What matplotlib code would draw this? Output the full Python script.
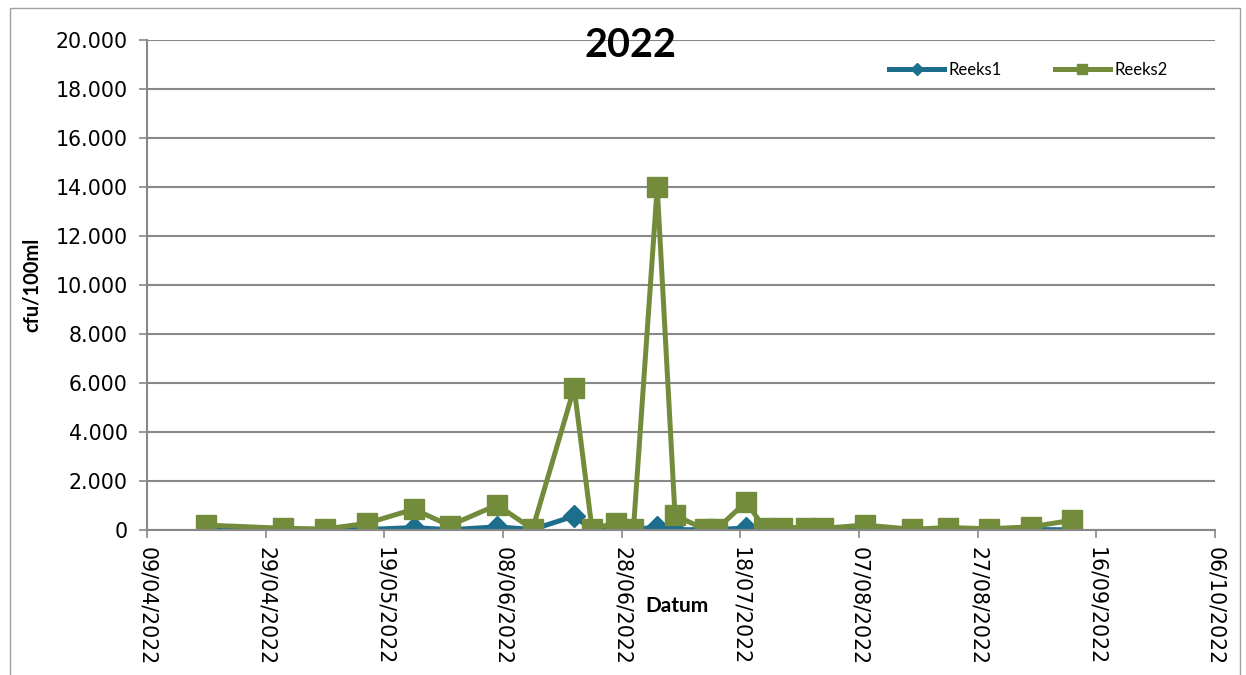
import numpy as np
import pandas as pd
import matplotlib.pyplot as plt
import matplotlib.dates as mdates
from matplotlib.ticker import FuncFormatter
from matplotlib.patches import Rectangle

plt.rcParams['font.family'] = ['Lato', 'DejaVu Sans']

dates = ["19/04/2022", "02/05/2022", "09/05/2022", "16/05/2022", "24/05/2022",
         "30/05/2022", "07/06/2022", "13/06/2022", "20/06/2022", "23/06/2022",
         "27/06/2022", "30/06/2022", "04/07/2022", "07/07/2022", "12/07/2022",
         "14/07/2022", "19/07/2022", "22/07/2022", "25/07/2022", "29/07/2022",
         "01/08/2022", "08/08/2022", "16/08/2022", "22/08/2022", "29/08/2022",
         "05/09/2022", "12/09/2022"]
reeks1 = [10, 10, 5, 20, 100, 10, 130, 20, 570, 10, 20, 10, 130, 10, 20,
          20, 80, 20, 20, 20, 20, 10, 20, 20, 20, 20, 10]
reeks2 = [200, 70, 40, 270, 850, 180, 1020, 40, 5800, 50, 280, 60, 14000, 600, 30,
          30, 1150, 100, 100, 100, 70, 200, 30, 100, 50, 130, 400]
series_names = ["Reeks1", "Reeks2"]

x = pd.to_datetime(dates, format="%d/%m/%Y")
blue = "#1c6e8c"
green = "#728c3b"
grid_c = "#888888"

fig = plt.figure(figsize=(12.46, 6.75), dpi=100)
ax = fig.add_axes([0.118, 0.2148, 0.857, 0.726])

ax.plot(x, reeks1, color=blue, lw=3.6, marker="D", ms=11, mec=blue, label=series_names[0])
ax.plot(x, reeks2, color=green, lw=3.6, marker="s", ms=14, mec=green, label=series_names[1])

ax.set_ylim(0, 20000)
ax.set_yticks(np.arange(0, 20001, 2000))
ax.yaxis.set_major_formatter(FuncFormatter(lambda v, p: f"{int(v):,}".replace(",", ".")))
ax.set_xlim(pd.Timestamp("2022-04-09"), pd.Timestamp("2022-10-06"))
ticks = pd.date_range("2022-04-09", "2022-10-06", freq="20D")
ax.set_xticks(ticks)
ax.xaxis.set_major_formatter(mdates.DateFormatter("%d/%m/%Y"))

ax.grid(axis="y", color=grid_c, lw=1.5)
ax.set_axisbelow(True)
for s in ["top", "right"]:
    ax.spines[s].set_visible(False)
for s in ["left", "bottom"]:
    ax.spines[s].set_color(grid_c)
    ax.spines[s].set_linewidth(1.5)
ax.tick_params(axis="both", colors=grid_c, width=1.2, length=6, labelcolor="black")
ax.tick_params(axis="y", pad=8)
ax.tick_params(axis="x", pad=6)
for lab in ax.get_yticklabels() + ax.get_xticklabels():
    lab.set_fontfamily("DejaVu Sans")
    lab.set_fontsize(14.8)
plt.setp(ax.get_xticklabels(), rotation=-90, ha="center", va="top")

ax.set_ylabel("cfu/100ml", fontsize=14.5, fontweight="bold", labelpad=10)
fig.text(0.543, 0.102, "Datum", fontsize=15, fontweight="bold", ha="center", va="center")
fig.text(0.506, 0.932, "2022", fontsize=28.5, fontweight="bold", ha="center", va="center")

leg = ax.legend(loc="upper left", bbox_to_anchor=(0.681, 0.985), ncol=2, frameon=False,
                fontsize=12, handlelength=3.3, columnspacing=3.2, markerscale=0.55,
                handletextpad=0.25)

fig.patches.append(Rectangle((0.008, -0.01), 0.987, 0.998, transform=fig.transFigure,
                             fill=False, ec="#a0a0a0", lw=1))

fig.savefig("out.png", dpi=100)
